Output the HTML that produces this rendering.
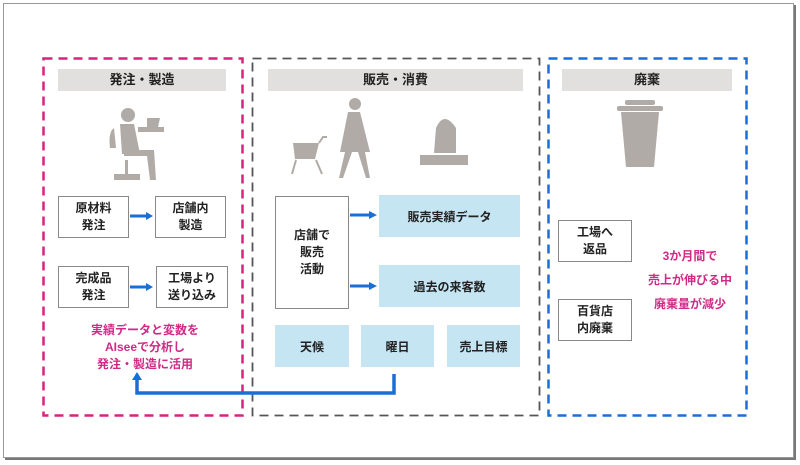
<!DOCTYPE html>
<html><head><meta charset="utf-8"><style>
body{margin:0;width:800px;height:465px;background:#fff;position:relative;overflow:hidden;font-family:"Liberation Sans","Noto Sans CJK JP",sans-serif;font-weight:bold;}
.a{position:absolute;box-sizing:border-box;}
.frame{left:3px;top:3px;width:791px;height:455px;border:1px solid #999;box-shadow:2px 2px 0 #777;}
.hdr{background:#e2e0de;height:22px;font-size:13px;color:#222;text-align:center;line-height:22px;}
.bx{border:1.5px solid #888;background:#fff;font-size:12px;color:#222;display:flex;align-items:center;justify-content:center;text-align:center;line-height:17px;}
.bl{background:#c5e5f3;font-size:12px;color:#222;display:flex;align-items:center;justify-content:center;}
.pk{color:#d02a86;font-size:12px;text-align:center;}
</style></head><body>
<div class="a frame"></div>
<svg class="a" style="left:0;top:0" width="800" height="465">
<rect x="43.5" y="58.5" width="199" height="357" fill="none" stroke="#d6247d" stroke-width="2.5" stroke-dasharray="9,6"/>
<rect x="252.5" y="58.5" width="287" height="357" fill="none" stroke="#555" stroke-width="1.8" stroke-dasharray="9,6"/>
<rect x="548.5" y="58.5" width="198" height="357" fill="none" stroke="#1a6fd6" stroke-width="2.5" stroke-dasharray="9,6"/>
<g fill="#b1aba7">
<!-- desk person -->
<circle cx="128" cy="115" r="7"/>
<path d="M120 124 h14 l6 30 h-18 z"/>
<path d="M114 128 q-6 4 -4 20 h6 z"/>
<path d="M124 150 h30 l2 30 h-6 l-3 -24 h-23 z"/>
<rect x="138" y="127" width="26" height="5"/>
<path d="M147 118 h13 l-2 9 h-11z"/>
<rect x="125" y="160" width="3" height="14"/>
<path d="M114 174 h26 v6 h-26z"/>
<!-- cart -->
<path d="M293 143 h26 l-4 16 h-20 z"/>
<path d="M296 160 l-4 14 M316 160 l6 14" stroke="#b1aba7" stroke-width="2"/>
<path d="M319 143 l4 -6 h4" stroke="#b1aba7" stroke-width="2" fill="none"/>
<!-- woman -->
<circle cx="355" cy="104" r="6"/>
<path d="M348 112 h12 l10 40 h-30 z"/>
<path d="M345 152 l-6 26 h4 l9 -26 z M358 152 l8 26 h4 l-5 -26z"/>
<!-- seated person -->
<path d="M436 128 q8 -18 20 0 v25 h-22 z"/>
<path d="M420 155 h48 v10 h-48 z"/>
<!-- trash -->
<rect x="625" y="100" width="30" height="5" rx="2"/>
<rect x="617" y="106" width="46" height="5" rx="2"/>
<path d="M621 112 h38 l-5 55 h-28 z"/>
</g>
<path d="M130 216 h17" stroke="#1a6fd6" stroke-width="3"/><path d="M146 212 l7 4 -7 4z" fill="#1a6fd6"/>
<path d="M130 287 h17" stroke="#1a6fd6" stroke-width="3"/><path d="M146 283 l7 4 -7 4z" fill="#1a6fd6"/>
<path d="M350 215 h20" stroke="#1a6fd6" stroke-width="3"/><path d="M369 211 l8 4 -8 4z" fill="#1a6fd6"/>
<path d="M350 286 h20" stroke="#1a6fd6" stroke-width="3"/><path d="M369 282 l8 4 -8 4z" fill="#1a6fd6"/>
<path d="M394 374 v19 h-257 v-14" stroke="#1a6fd6" stroke-width="3.5" fill="none"/>
<path d="M132 380 l5 -8 5 8z" fill="#1a6fd6"/>
</svg>
<div class="a hdr" style="left:58px;top:69px;width:168px">発注・製造</div>
<div class="a hdr" style="left:268px;top:69px;width:255px">販売・消費</div>
<div class="a hdr" style="left:562px;top:69px;width:170px">廃棄</div>
<div class="a bx" style="left:58px;top:196px;width:71px;height:42px">原材料<br>発注</div>
<div class="a bx" style="left:155px;top:196px;width:71px;height:42px">店舗内<br>製造</div>
<div class="a bx" style="left:58px;top:266px;width:71px;height:42px">完成品<br>発注</div>
<div class="a bx" style="left:156px;top:266px;width:72px;height:42px">工場より<br>送り込み</div>
<div class="a pk" style="left:50px;top:322px;width:190px;line-height:17px">実績データと変数を<br>AIseeで分析し<br>発注・製造に活用</div>
<div class="a bx" style="left:275px;top:196px;width:74px;height:113px">店舗で<br>販売<br>活動</div>
<div class="a bl" style="left:379px;top:195px;width:141px;height:42px">販売実績データ</div>
<div class="a bl" style="left:379px;top:265px;width:141px;height:42px">過去の来客数</div>
<div class="a bl" style="left:275px;top:325px;width:74px;height:42px">天候</div>
<div class="a bl" style="left:361px;top:325px;width:73px;height:42px">曜日</div>
<div class="a bl" style="left:447px;top:325px;width:73px;height:42px">売上目標</div>
<div class="a bx" style="left:558px;top:220px;width:74px;height:42px">工場へ<br>返品</div>
<div class="a bx" style="left:558px;top:299px;width:74px;height:42px">百貨店<br>内廃棄</div>
<div class="a pk" style="left:640px;top:244px;width:100px;line-height:24px">3か月間で<br>売上が伸びる中<br>廃棄量が減少</div>
</body></html>
